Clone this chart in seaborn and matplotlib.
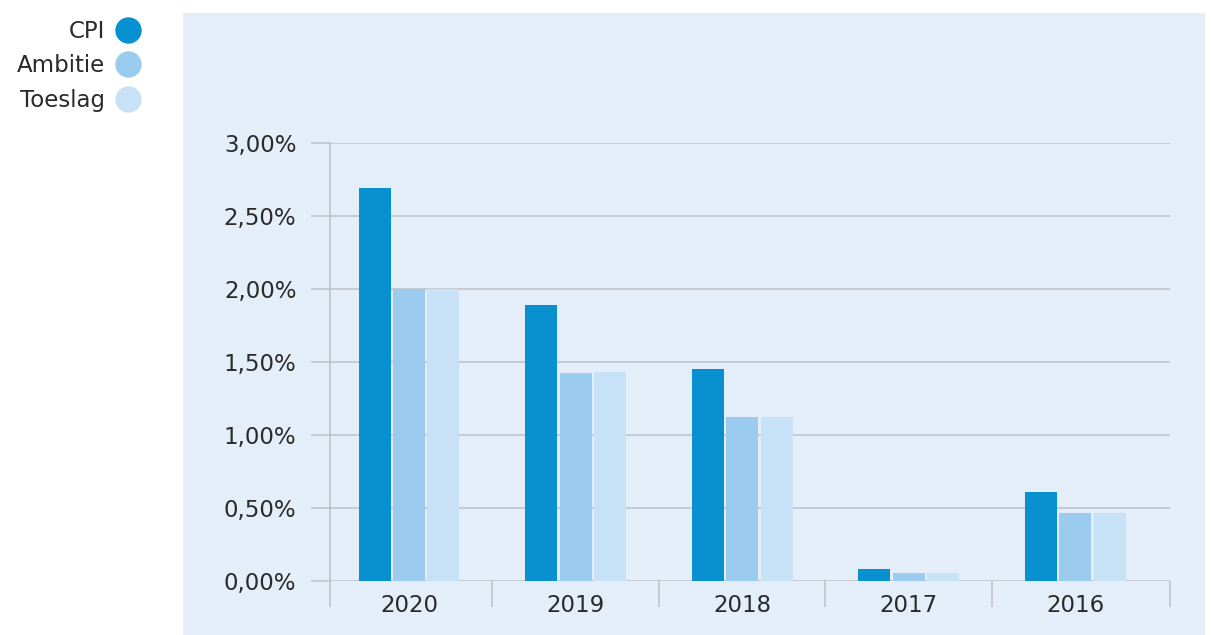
import matplotlib
matplotlib.use("Agg")
import matplotlib.pyplot as plt
from matplotlib.lines import Line2D
from matplotlib.patches import Rectangle
from matplotlib.ticker import FixedLocator, FuncFormatter
import seaborn as sns
import pandas as pd

# Indexation figures per year (percent)
years = ["2020", "2019", "2018", "2017", "2016"]
series = ["CPI", "Ambitie", "Toeslag"]
cpi = [2.69, 1.89, 1.45, 0.08, 0.61]
ambitie = [2.00, 1.42, 1.12, 0.05, 0.46]
toeslag = [2.00, 1.43, 1.12, 0.05, 0.46]
y_ticks = [0.0, 0.5, 1.0, 1.5, 2.0, 2.5, 3.0]

colors = {"CPI": "#0990D1", "Ambitie": "#9BCCEF", "Toeslag": "#C7E2F6"}
panel_bg = "#E3EEF9"
grid_col = "#BDC1C6"
text_col = "#2A2A2A"

df = pd.DataFrame({
    "jaar": years * 3,
    "reeks": [s for s in series for _ in years],
    "waarde": cpi + ambitie + toeslag,
})

sns.set_theme(style="white")
plt.rcParams["font.family"] = ["DejaVu Sans"]

W, H = 1211, 635
fig = plt.figure(figsize=(W / 100, H / 100), dpi=100)
fig.patch.set_facecolor("white")

# light blue panel behind the chart
fig.add_artist(Rectangle((183 / W, 0), (1205 - 183) / W, 1 - 13 / H,
                         transform=fig.transFigure, facecolor=panel_bg,
                         edgecolor="none", zorder=-10))

ax = fig.add_axes([330 / W, 1 - 580.6 / H, (1170 - 330) / W, (580.6 - 142.7) / H])
ax.set_facecolor("none")

sns.barplot(data=df, x="jaar", y="waarde", hue="reeks", order=years,
            hue_order=series, palette=colors, width=0.62, gap=0.07,
            saturation=1, edgecolor="none", legend=False, ax=ax, zorder=3)

ax.set_xlim(-0.475, 4.57)
ax.set_ylim(0, 3.0)
ax.set_xlabel("")
ax.set_ylabel("")

for side in ["top", "right", "bottom"]:
    ax.spines[side].set_visible(False)
ax.spines["left"].set_color(grid_col)
ax.spines["left"].set_linewidth(1.1)

# horizontal grid
ax.yaxis.set_major_locator(FixedLocator(y_ticks))
ax.yaxis.set_major_formatter(FuncFormatter(lambda v, p: f"{v:.2f}%".replace(".", ",")))
ax.grid(axis="y", color=grid_col, linewidth=1.1, zorder=0)
ax.set_axisbelow(True)
ax.tick_params(axis="y", which="major", length=13.7, width=1.1, color=grid_col,
               pad=10.5, labelsize=16.5, labelcolor=text_col, left=True)

# category labels and separator ticks
ax.tick_params(axis="x", which="major", length=0, pad=10, labelsize=16.5,
               labelcolor=text_col)
xl = ax.get_xlim()
ax.xaxis.set_minor_locator(FixedLocator([xl[0], 0.5, 1.5, 2.5, 3.5, xl[1]]))
ax.tick_params(axis="x", which="minor", length=19, width=1.1, color=grid_col,
               bottom=True)

# legend in the upper-left corner
handles = [Line2D([], [], linestyle="none", marker="o", markersize=19,
                  markerfacecolor=colors[s], markeredgecolor="none") for s in series]
leg = fig.legend(handles, series, loc="upper right",
                 bbox_to_anchor=(139 / W, 1 - 20 / H),
                 frameon=False, markerfirst=False, fontsize=16.5,
                 labelspacing=0.5, handletextpad=0.5, handlelength=1.0,
                 borderaxespad=0, borderpad=0, labelcolor=text_col)

fig.savefig("out.png", dpi=100)
